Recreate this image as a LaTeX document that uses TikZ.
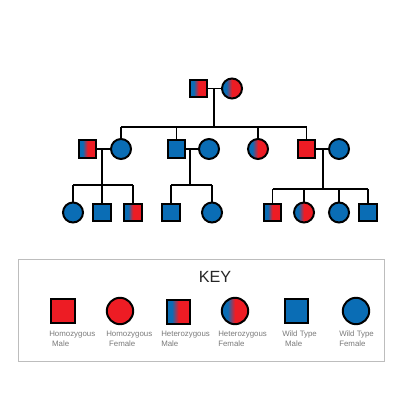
\documentclass[tikz,border=0pt]{standalone}
\usepackage{fontspec}
\setmainfont{Liberation Sans}
\usepackage{tikz}
\usetikzlibrary{calc}

\definecolor{homored}{HTML}{ED1C24}
\definecolor{wildblue}{HTML}{0A6DB5}
\definecolor{keygray}{HTML}{BDBDBD}
\definecolor{labelgray}{HTML}{7A7A7A}
\pgfdeclarehorizontalshading{hetshade}{100bp}{color(0bp)=(wildblue); color(36bp)=(wildblue); color(50bp)=(homored); color(100bp)=(homored)}

\begin{document}
\begin{tikzpicture}[
    x=0.025cm, y=-0.025cm,
    male/.style={draw, line width=1.4pt, rectangle, minimum size=0.43cm, inner sep=0pt},
    female/.style={draw, line width=1.4pt, circle, minimum size=0.5cm, inner sep=0pt},
    homo/.style={fill=homored},
    het/.style={shading=hetshade},
    wild/.style={fill=wildblue},
    keymale/.style={male, minimum size=0.59cm},
    keyfemale/.style={female, minimum size=0.66cm},
    line/.style={line width=0.9pt},
    keylabel/.style={anchor=north west, inner sep=0pt, align=left, text=labelgray, font=\fontsize{5.6}{6.8}\selectfont}
]
\useasboundingbox (0,0) rectangle (400,400);

% Generation I
\node[male, het] (m1) at (198.5,88.5) {};
\node[female, het] (f1) at (232,88.5) {};
\draw[line] (m1) -- (f1);
\coordinate (c1) at (214,88.5);
\coordinate (bar1) at (214,127);
\draw[line] (c1) -- (bar1);

% Generation II
\node[male, het] (m21) at (87.5,149) {};
\node[female, wild] (f21) at (121,149) {};
\node[male, wild] (m22) at (176.5,149) {};
\node[female, wild] (f22) at (209,149) {};
\node[female, het] (f23) at (258,149) {};
\node[male, homo] (m24) at (306.5,149) {};
\node[female, wild] (f24) at (339,149) {};
\draw[line] (f21.north |- bar1) -- (m24.north |- bar1);
\foreach \k in {f21,m22,f23,m24}
    \draw[line] (\k.north) -- (\k.north |- bar1);
\draw[line] (m21) -- (f21);
\draw[line] (m22) -- (f22);
\draw[line] (m24) -- (f24);
\coordinate (c21) at (102,149);
\coordinate (c22) at (190,149);
\coordinate (c24) at (323,149);
\coordinate (bar21) at (102,185);
\coordinate (bar22) at (190,185);
\coordinate (bar24) at (323,189);
\draw[line] (c21) -- (bar21);
\draw[line] (c22) -- (bar22);
\draw[line] (c24) -- (bar24);

% Generation III
\node[female, wild] (f31) at (73,212.5) {};
\node[male, wild] (m31) at (102,212.5) {};
\node[male, het] (m32) at (133,212.5) {};
\node[male, wild] (m33) at (171,212.5) {};
\node[female, wild] (f32) at (212,212.5) {};
\node[male, het] (m34) at (272.5,212.5) {};
\node[female, het] (f33) at (304,212.5) {};
\node[female, wild] (f34) at (339,212.5) {};
\node[male, wild] (m35) at (368,212.5) {};
\draw[line] (f31.north |- bar21) -- (m32.north |- bar21);
\foreach \k in {f31,m31,m32}
    \draw[line] (\k.north) -- (\k.north |- bar21);
\draw[line] (m33.north |- bar22) -- (f32.north |- bar22);
\foreach \k in {m33,f32}
    \draw[line] (\k.north) -- (\k.north |- bar22);
\draw[line] (m34.north |- bar24) -- (m35.north |- bar24);
\foreach \k in {m34,f33,f34,m35}
    \draw[line] (\k.north) -- (\k.north |- bar24);

% Key
\draw[keygray, line width=0.7pt] (18,259) rectangle (384,361);
\node[text=black!85, font=\fontsize{11.5}{12}\selectfont] (key) at (215,277) {KEY};
\node[keymale, homo] (k1) at (63,311) {};
\node[keyfemale, homo] (k2) at (120,311) {};
\node[keymale, het] (k3) at (178.5,312) {};
\node[keyfemale, het] (k4) at (235,311) {};
\node[keymale, wild] (k5) at (296.5,311) {};
\node[keyfemale, wild] (k6) at (356,311) {};
\node[keylabel] (l1) at (49,331) {Homozygous\\\hspace{2pt}Male};
\node[keylabel] (l2) at (106,331) {Homozygous\\\hspace{2pt}Female};
\node[keylabel] (l3) at (161,331) {Heterozygous\\Male};
\node[keylabel] (l4) at (218,331) {Heterozygous\\Female};
\node[keylabel] (l5) at (282,331) {Wild Type\\\hspace{2pt}Male};
\node[keylabel] (l6) at (339,331) {Wild Type\\Female};
\end{tikzpicture}
\end{document}
